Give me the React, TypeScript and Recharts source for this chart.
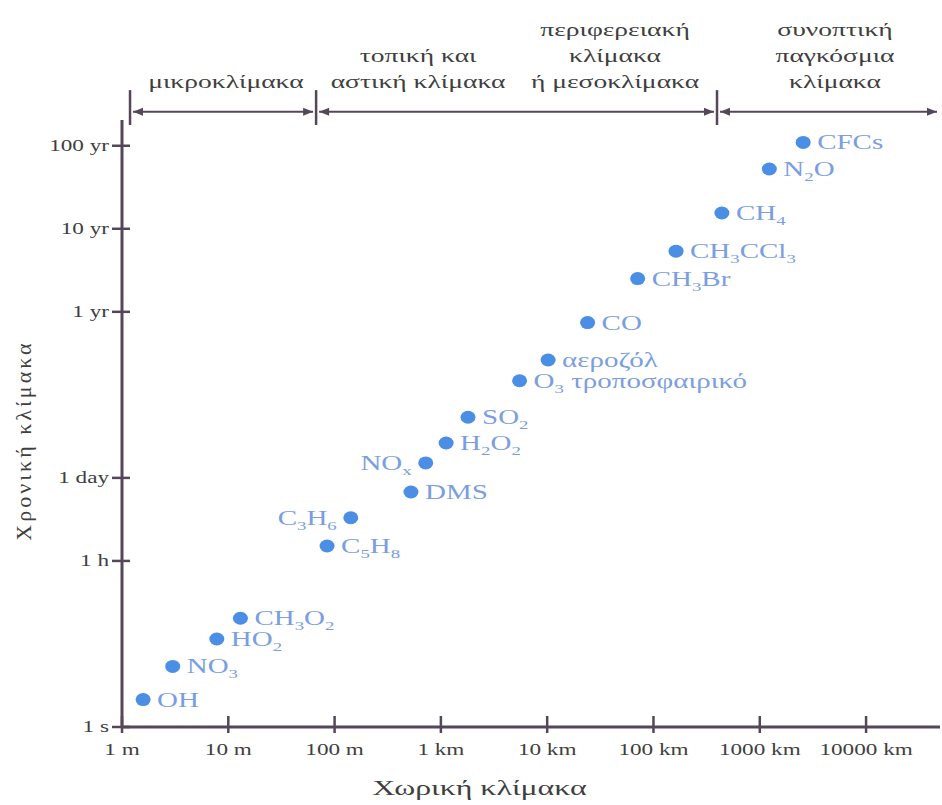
import { ScatterChart, Scatter, XAxis, YAxis, ReferenceLine, ReferenceDot } from 'recharts';

// species, labels use "_" before a subscript character
const species = [
  'OH', 'NO_3', 'HO_2', 'CH_3O_2', 'C_5H_8', 'C_3H_6', 'DMS', 'NO_x', 'H_2O_2', 'SO_2',
  'O_3 τροποσφαιρικό', 'αεροζόλ', 'CO', 'CH_3Br', 'CH_3CCl_3', 'CH_4', 'N_2O', 'CFCs',
];
// spatial scale in metres
const spatialScaleM = [
  1.58, 3.0, 7.8, 13, 85, 142, 523, 720, 1120, 1800,
  5500, 10200, 24000, 71000, 163000, 440000, 1230000, 2560000,
];
// position on the (schematic) time axis: 0 = 1 s, 2 = 1 h, 3 = 1 day, 5 = 1 yr, 6 = 10 yr, 7 = 100 yr
const timePos = [
  0.33, 0.73, 1.06, 1.31, 2.18, 2.52, 2.83, 3.18, 3.42, 3.73,
  4.17, 4.42, 4.87, 5.4, 5.73, 6.19, 6.72, 7.04,
];
const labelOnLeft = ['NO_x', 'C_3H_6'];

const xTickValues = [1, 10, 100, 1e3, 1e4, 1e5, 1e6, 1e7];
const xTickLabels = ['1 m', '10 m', '100 m', '1 km', '10 km', '100 km', '1000 km', '10000 km'];
const yTickValues = [0, 2, 3, 5, 6, 7];
const yTickLabels = ['1 s', '1 h', '1 day', '1 yr', '10 yr', '100 yr'];

// scale bands drawn above the plot
const bandEdgesM = [1.19, 67, 396000, 4.96e7];
const bandTitleCentersM = [9.5, 610, 43500, 5.1e6];
const bandTitles = [
  ['μικροκλίμακα'],
  ['τοπική και', 'αστική κλίμακα'],
  ['περιφερειακή', 'κλίμακα', 'ή μεσοκλίμακα'],
  ['συνοπτική', 'παγκόσμια', 'κλίμακα'],
];

const data = species.map((name, i) => ({ name, space: spatialScaleM[i], time: timePos[i] }));

const FONT = '"Liberation Serif", "DejaVu Serif", serif';
const AXIS = '#54475a';
const TEXT = '#3f3f3f';
const DOT = '#4a8ee6';
const LABEL = '#7a9ee0';
const STRETCH = 1.45;
const ARROW_Y = 7.41;

function Formula({ text }: { text: string }) {
  const parts = text.split(/(_.)/).filter((p) => p !== '');
  let wasSub = false;
  return (
    <>
      {parts.map((p, i) => {
        if (p.startsWith('_')) {
          wasSub = true;
          return (
            <tspan key={i} dy={5} fontSize={13}>
              {p.slice(1)}
            </tspan>
          );
        }
        const dy = wasSub ? -5 : 0;
        wasSub = false;
        return (
          <tspan key={i} dy={dy}>
            {p}
          </tspan>
        );
      })}
    </>
  );
}

function StretchText({ x, y, anchor, size, fill, children }: any) {
  return (
    <g transform={`translate(${x},${y}) scale(${STRETCH},1)`}>
      <text x={0} y={0} textAnchor={anchor} fontSize={size} fontFamily={FONT} fill={fill}>
        {children}
      </text>
    </g>
  );
}

const renderPoint = (props: any) => {
  const { cx, cy, payload } = props;
  const left = labelOnLeft.includes(payload.name);
  return (
    <g>
      <ellipse cx={cx} cy={cy} rx={7.5} ry={6.5} fill={DOT} />
      <StretchText x={left ? cx - 14 : cx + 14} y={cy + 7} anchor={left ? 'end' : 'start'} size={20} fill={LABEL}>
        <Formula text={payload.name} />
      </StretchText>
    </g>
  );
};

const XTick = (props: any) => {
  const { x, y, payload } = props;
  const label = xTickLabels[xTickValues.indexOf(payload.value)];
  return (
    <g>
      <line x1={x} x2={x} y1={y - 11} y2={y + 6} stroke={AXIS} strokeWidth={2.5} />
      <StretchText x={x} y={y + 28} anchor="middle" size={16} fill={TEXT}>
        {label}
      </StretchText>
    </g>
  );
};

const YTick = (props: any) => {
  const { x, y, payload } = props;
  const label = yTickLabels[yTickValues.indexOf(payload.value)];
  return (
    <g>
      <line x1={x - 10} x2={x + 8} y1={y} y2={y} stroke={AXIS} strokeWidth={2.5} />
      <StretchText x={x - 13} y={y + 5} anchor="end" size={16} fill={TEXT}>
        {label}
      </StretchText>
    </g>
  );
};

const XTitle = (props: any) => {
  const { viewBox } = props;
  return (
    <StretchText x={viewBox.x + viewBox.width * 0.437} y={viewBox.y + 68} anchor="middle" size={22} fill={TEXT}>
      Χωρική κλίμακα
    </StretchText>
  );
};

const YTitle = (props: any) => {
  const { viewBox } = props;
  const cy = viewBox.y + viewBox.height / 2 + 17;
  return (
    <text
      transform={`translate(${viewBox.x + 23},${cy}) rotate(-90)`}
      textAnchor="middle"
      dominantBaseline="central"
      fontSize={22}
      letterSpacing={3}
      fontFamily={FONT}
      fill={TEXT}
    >
      Χρονική κλίμακα
    </text>
  );
};

const renderArrow = (props: any) => {
  const { x1, y1, x2 } = props;
  const a = x1 + 3;
  const b = x2 - 3;
  return (
    <g>
      <line x1={a} y1={y1} x2={b} y2={y1} stroke={AXIS} strokeWidth={2} />
      <path d={`M${a},${y1} l10,-4 l0,8 z`} fill={AXIS} />
      <path d={`M${b},${y1} l-10,-4 l0,8 z`} fill={AXIS} />
    </g>
  );
};

const bandTitleShape = (lines: string[]) => (props: any) => {
  const { cx, cy } = props;
  return (
    <g>
      {lines.map((line, k) => (
        <StretchText key={k} x={cx} y={cy - (lines.length - 1 - k) * 26} anchor="middle" size={19} fill={TEXT}>
          {line}
        </StretchText>
      ))}
    </g>
  );
};

export default function App() {
  return (
    <div style={{ position: 'absolute', left: 0, top: 0, width: 942, height: 805, background: '#fff' }}>
      <ScatterChart width={942} height={805} margin={{ top: 120, right: 2, bottom: 48, left: 0 }}>
        <XAxis
          type="number"
          dataKey="space"
          scale="log"
          domain={[1, 4.96e7]}
          ticks={xTickValues}
          interval={0}
          tick={<XTick />}
          tickLine={false}
          tickSize={0}
          tickMargin={0}
          height={30}
          axisLine={{ stroke: AXIS, strokeWidth: 3 }}
          label={XTitle}
        />
        <YAxis
          type="number"
          dataKey="time"
          domain={[0, 7.31]}
          ticks={yTickValues}
          interval={0}
          tick={<YTick />}
          tickLine={false}
          tickSize={0}
          tickMargin={0}
          width={122}
          axisLine={{ stroke: AXIS, strokeWidth: 3 }}
          label={YTitle}
        />
        {bandEdgesM.slice(0, 3).map((edge, i) => (
          <ReferenceLine
            key={`edge-${i}`}
            segment={[
              { x: edge, y: 7.25 },
              { x: edge, y: 7.67 },
            ]}
            stroke={AXIS}
            strokeWidth={2.5}
            ifOverflow="visible"
          />
        ))}
        {bandEdgesM.slice(0, 3).map((edge, i) => (
          <ReferenceLine
            key={`arrow-${i}`}
            segment={[
              { x: edge, y: ARROW_Y },
              { x: bandEdgesM[i + 1], y: ARROW_Y },
            ]}
            ifOverflow="visible"
            shape={renderArrow}
          />
        ))}
        {bandTitles.map((lines, i) => (
          <ReferenceDot
            key={`title-${i}`}
            x={bandTitleCentersM[i]}
            y={7.69}
            ifOverflow="visible"
            shape={bandTitleShape(lines)}
          />
        ))}
        <Scatter data={data} shape={renderPoint} isAnimationActive={false} />
      </ScatterChart>
    </div>
  );
}
